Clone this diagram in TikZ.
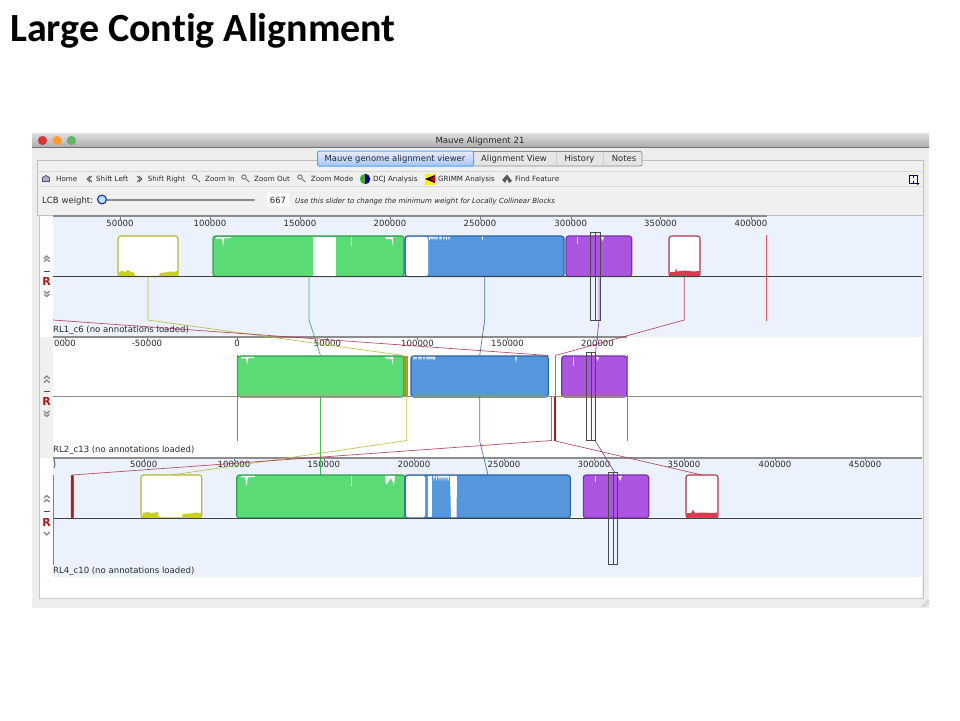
\documentclass[tikz,border=0pt]{standalone}
\usepackage{fontspec}
\setmainfont{DejaVu Sans}
\newfontfamily\titlefont[Ligatures=NoCommon]{Carlito}
\definecolor{panelblue}{HTML}{EBF2FD}
\definecolor{winbg}{HTML}{EDEDEB}
\definecolor{ylw}{HTML}{B4B92A}
\definecolor{ylwf}{HTML}{C8D020}
\definecolor{grn}{HTML}{2F9C4E}
\definecolor{grnf}{HTML}{5BDB75}
\definecolor{blu}{HTML}{2B639F}
\definecolor{bluf}{HTML}{5596DD}
\definecolor{pur}{HTML}{7A2FAE}
\definecolor{purf}{HTML}{AC55E0}
\definecolor{rd}{HTML}{B0324A}
\definecolor{rdf}{HTML}{D93A50}
\definecolor{brd}{HTML}{EE5060}
\definecolor{dred}{HTML}{B01818}
\definecolor{ink}{HTML}{2A2A2A}
\tikzset{
  x=1pt,y=-1pt,
  lbl/.style={font=\fontsize{8.55}{10}\selectfont,text=ink,inner sep=0pt},
  ticklbl/.style={lbl,anchor=base},
  toolitem/.style={font=\fontsize{7.15}{9}\selectfont,text=ink,inner sep=0pt,anchor=base west},
  tablbl/.style={font=\fontsize{8.4}{10}\selectfont,text=ink,inner sep=0pt,anchor=base},
  blockshape/.style={rounded corners=2.6pt,line width=1.1pt},
  linkline/.style={line width=.7pt,opacity=.85},
  redline/.style={line width=1pt,draw=brd},
  hiframe/.style={draw=ink!85,line width=.7pt,fill=none},
  axisline/.style={draw=black!45,line width=1.1pt},
  midline/.style={draw=black!75,line width=.9pt},
  navmark/.style={draw=black!45,line width=1.3pt,line cap=round},
  iconline/.style={draw=black!60,line width=.8pt},
}
\newcommand{\blockbox}[7]{% name, x1, x2, y1, y2, outline, fill
  \path[blockshape,draw=#6,fill=#7] (#2,#4) rectangle (#3,#5);
  \coordinate (#1) at (#2,#4);
}
\newcommand{\navset}[4]{%
  \draw[navmark] (44,#1+1.5) -- (46.7,#1-1) -- (49.5,#1+1.5);
  \draw[black!70,line width=1pt] (43.5,#2) -- (50,#2);
  \node[inner sep=0pt,font=\fontsize{11}{11}\selectfont\bfseries,text=dred] (r#4) at (46.7,#3) {R};
}
\newcommand{\hibox}[5]{% name x1 x2 y1 y2
  \path[hiframe] (#2,#4) rectangle (#3,#5);
  \draw[hiframe] ({(#2+#3)/2},#4) -- ({(#2+#3)/2},#5);
}
\newcommand{\teeth}[3]{% list of x, y top, depth
  \foreach \q in {#1} {\fill[white] (\q-.9,#2) -- (\q+.9,#2) -- (\q,#2+#3) -- cycle;}
}
\begin{document}
\begin{tikzpicture}
\useasboundingbox (0,0) rectangle (960,720);
\fill[white] (0,0) rectangle (960,720);
\node[anchor=west,inner sep=0pt,font=\titlefont\fontsize{40}{44}\selectfont\bfseries,text=black] (title) at (10,31) {Large Contig Alignment};
% window
\fill[winbg] (32,133) rectangle (929,608);
\shade[top color=black!12,bottom color=black!32] (32,133) rectangle (929,147);
\draw[black!55,line width=.5pt] (32,147.5) -- (929,147.5);
\fill[red!75!white!85!black] (42.5,140.5) circle (4.6);
\fill[orange!80!white] (57,140.5) circle (4.6);
\fill[green!50!black!60!white] (71.5,140.5) circle (4.6);
\node[inner sep=0pt,font=\fontsize{8.6}{10}\selectfont,text=black!85] (wintitle) at (480,141) {Mauve Alignment 21};
\path[draw=black!25,line width=.8pt,fill=black!6] (37.5,160) rectangle (923,215);
\draw[black!15,line width=.5pt] (38,171) -- (923,171) (38,186) -- (923,186);
% tabs
\path[draw=black!45,line width=.7pt,fill=white!90!black,rounded corners=2pt] (470,151.5) rectangle (642,166);
\path[draw=blue!50!cyan!70,line width=1pt,top color=blue!8,bottom color=cyan!35!blue!35,rounded corners=2pt] (317.5,151) rectangle (473.5,166);
\draw[black!20] (556,152) -- (556,165.5) (603,152) -- (603,165.5);
\node[tablbl] (tab1) at (395,161.5) {Mauve genome alignment viewer};
\node[tablbl] (tab2) at (514,161.5) {Alignment View};
\node[tablbl] (tab3) at (579.5,161.5) {History};
\node[tablbl] (tab4) at (624,161.5) {Notes};
% toolbar
\draw[iconline,fill=black!30,draw=blue!40!black!70] (42.5,181.5) -- (42.5,177.5) -- (46,175.5) -- (49.5,177.5) -- (49.5,181.5) -- cycle;
\node[toolitem] (t1) at (56,181.7) {Home};
\draw[iconline] (90,176) -- (87,179) -- (90,182) (92,176) -- (89,179) -- (92,182);
\node[toolitem] (t2) at (96,181.7) {Shift Left};
\draw[iconline] (137,176) -- (140,179) -- (137,182) (139,176) -- (142,179) -- (139,182);
\node[toolitem] (t3) at (147.7,181.7) {Shift Right};
\draw[iconline] (194.5,177) circle (2.2) (196.5,179) -- (200,182);
\node[toolitem] (t4) at (205,181.7) {Zoom In};
\draw[iconline] (244,177) circle (2.2) (246,179) -- (249.5,182);
\node[toolitem] (t5) at (254,181.7) {Zoom Out};
\draw[iconline] (300,177) circle (2.2) (302,179) -- (305.5,182);
\node[toolitem] (t6) at (310.7,181.7) {Zoom Mode};
\fill[green!55!black!75] (365,179) circle (5.2);
\fill[blue!55!black] (365,184.2) arc (90:-90:5.2) -- cycle;
\node[toolitem] (t7) at (373,181.7) {DCJ Analysis};
\fill[yellow] (424.5,173.5) rectangle (436,185);
\fill[black] (425,179) -- (435,175) -- (435,183) -- cycle;
\fill[red!85!black] (430,179) -- (435,176) -- (435,182) -- cycle;
\node[toolitem] (t8) at (438,181.7) {GRIMM Analysis};
\fill[black!65] (502,180) -- (507,174.5) -- (512,181) -- (509,183) -- (507,179) -- (505,183) -- cycle;
\node[toolitem] (t9) at (515,181.7) {Find Feature};
\draw[blue!55!black,line width=.6pt] (909.5,175) rectangle (917,183);
\draw[blue!55!black,line width=.6pt,dashed] (913.3,175) -- (913.3,183);
\fill[black] (916,183) -- (919.5,183) -- (917.7,185) -- cycle;
% slider row
\node[lbl,anchor=base west] (lcb) at (42,203) {LCB weight:};
\draw[black!45,line width=2pt,line cap=round] (103,200) -- (254,200);
\path[draw=blue!60!black!80,line width=1.2pt,fill=blue!30!cyan!30] (102,199.5) circle (4.4);
\fill[white] (267,193) rectangle (289,207);
\node[lbl,anchor=base] (val) at (278,203) {667};
\node[anchor=base west,inner sep=0pt,font=\fontsize{7.05}{9}\selectfont\itshape,text=ink] (hint) at (295,203) {Use this slider to change the minimum weight for Locally Collinear Blocks};
% panel
\fill[white] (40,216) rectangle (922,598);
\fill[black!6] (40,337) rectangle (53,458);
\fill[panelblue] (53,216) rectangle (922,337);
\fill[panelblue] (53,458) rectangle (922,577);
\draw[black!22,line width=1pt] (39,216) -- (39,598) -- (923,598) -- (923,216);
\draw[black!25,line width=.6pt] (929,600) -- (921,607) (929,603) -- (924,607);
% blocks track 1
\blockbox{a1}{118}{178}{236}{276.5}{ylw}{white}
\fill[ylwf] (118.5,276) -- (119,272) -- (122,270.5) -- (125,272) -- (128,270) -- (131,272) -- (134,272.5) -- (135,276) -- cycle;
\fill[ylwf] (159,276) -- (160,273) -- (165,272.5) -- (170,271.5) -- (174,272) -- (177.5,270.5) -- (177.5,276) -- cycle;
\blockbox{b1}{213}{404}{236}{276.5}{grn}{grnf}
\fill[white] (312.7,237) rectangle (336,276);
\fill[white] (216,237) -- (231,237) -- (231,238) -- (224,238.5) -- (223,247) -- (222,238.5) -- (216,238.5) -- cycle;
\fill[white] (385,237) -- (393,237) -- (393,246) -- (391.5,239) -- (386,239) -- cycle (351,237) rectangle (351.6,246);
\blockbox{c1}{405}{564}{236}{276.5}{blu}{bluf}
\fill[white,rounded corners=1.5pt] (406,236.8) rectangle (428,275.8);
\teeth{429.5,431,433,435,437,440,441,444,446.5,449}{236.8}{3.5}
\teeth{482.5}{236.8}{3.5}
\blockbox{d1}{566}{631.7}{236}{276.5}{pur}{purf}
\fill[white!70!purf] (577.3,237) rectangle (578,244);
\fill[white] (601,237) -- (604,237) -- (602.5,241) -- cycle;
\blockbox{e1}{669}{700}{236}{276.5}{rd}{white}
\fill[rdf] (669.5,276) -- (670,272) -- (675,272) -- (676,268) -- (677,271.5) -- (685,270.5) -- (693,271.5) -- (699.5,271) -- (699.5,276) -- cycle;
% blocks track 2
\blockbox{b2}{237.5}{404}{356}{397}{grn}{grnf}
\fill[white] (241,356.8) -- (254,356.8) -- (254,358) -- (248,358.3) -- (247,365) -- (246,358.3) -- (241,358.3) -- cycle;
\fill[white] (385,356.8) -- (393,356.8) -- (393,365) -- (391.5,358.5) -- (386,358.5) -- cycle;
\fill[ylw!85!black] (404.3,356) rectangle (407.5,397);
\blockbox{c2}{411}{548.3}{356}{397}{blu}{bluf}
\teeth{414,416,419,421,424,427,429,431,433,434.5}{356.8}{3.5}
\teeth{516}{356.8}{6}
\blockbox{d2}{561.7}{627}{356}{397}{pur}{purf}
\fill[white!70!purf] (572.5,357) rectangle (573.3,366);
\fill[white] (596,357) -- (599,357) -- (597.5,361) -- cycle;
% blocks track 3
\path[fill=dred,draw=rd,rounded corners=1pt,line width=.5pt] (71,475) rectangle (73.5,518);
\blockbox{a3}{141}{201.7}{475}{518}{ylw}{white}
\fill[ylwf] (142,517.5) -- (143,513) -- (147,512) -- (152,513) -- (158,512) -- (159,517.5) -- cycle;
\fill[ylwf] (182,517.5) -- (183,514) -- (190,513.5) -- (196,512.5) -- (201,513) -- (201,517.5) -- cycle;
\blockbox{b3}{236.7}{405}{475}{518}{grn}{grnf}
\fill[white] (241,475.8) -- (255,475.8) -- (255,477) -- (248,477.3) -- (246.5,486) -- (245,477.3) -- (241,477.3) -- cycle;
\fill[white] (351,475.8) rectangle (351.6,486);
\fill[white] (385,475.8) -- (395,475.8) -- (394,485) -- (391,478) -- (386,485) -- cycle;
\blockbox{c3}{405}{570.3}{475}{518}{blu}{bluf}
\fill[white,rounded corners=1.5pt] (406,475.8) rectangle (425,517.3);
\fill[white] (428,475.8) rectangle (432,517.3);
\fill[white] (450,475.8) -- (457,475.8) -- (456.5,517.3) -- (451,517.3) -- cycle;
\teeth{434,436.5,439,441,443,445,447,448.5}{475.8}{5}
\blockbox{d3}{583.3}{648.7}{475}{518}{pur}{purf}
\fill[white!70!purf] (595.3,476) rectangle (596,482);
\fill[white] (618,476) -- (622,476) -- (620,481) -- cycle;
\blockbox{e3}{686}{718}{475}{518}{rd}{white}
\fill[rdf] (686.5,517.5) -- (687,513) -- (691,513) -- (693,510) -- (695,513) -- (702,512.5) -- (712,513) -- (717.5,512.5) -- (717,517.5) -- cycle;
% axes
\draw[midline] (53,276.5) -- (922,276.5);
\draw[axisline] (53,396.8) -- (922,396.8);
\draw[midline] (53,518) -- (922,518);
\draw[axisline] (53,216) -- (767,216);
\draw[axisline] (53,337) -- (627,337);
\draw[axisline] (53,458) -- (922,458);
% tick labels
\foreach \tx/\tl in {120/50000,210/100000,300/150000,390/200000,480/250000,570.7/300000,660.5/350000,751/400000}
  {\draw[black!55,line width=.4pt] (\tx,217) -- (\tx,220); \node[ticklbl] at (\tx,226.6) {\tl};}
\foreach \tx/\tl in {65/0000,147/-50000,237/0,327.5/50000,417.5/100000,507.5/150000,597.5/200000}
  {\draw[black!55,line width=.4pt] (\tx,338) -- (\tx,340); \node[ticklbl] at (\tx,346.6) {\tl};}
\foreach \tx/\tl in {54.5/),143.7/50000,234/100000,323.7/150000,414/200000,504/250000,594/300000,684/350000,775/400000,865/450000}
  {\draw[black!55,line width=.4pt] (\tx,459) -- (\tx,461); \node[ticklbl] at (\tx,467.2) {\tl};}
\node[lbl,anchor=base west] (name1) at (53,332) {RL1\_c6 (no annotations loaded)};
\node[lbl,anchor=base west] (name2) at (53,452) {RL2\_c13 (no annotations loaded)};
\node[lbl,anchor=base west] (name3) at (53,573.5) {RL4\_c10 (no annotations loaded)};
% nav
\navset{260}{271}{281.5}{1}
\draw[navmark] (44,258.5) -- (46.7,256) -- (49.5,258.5);
\draw[navmark] (44,291) -- (46.7,293.5) -- (49.5,291) (44,294) -- (46.7,296.5) -- (49.5,294);
\navset{381}{391}{401.7}{2}
\draw[navmark] (44,378.5) -- (46.7,376) -- (49.5,378.5);
\draw[navmark] (44,411) -- (46.7,413.5) -- (49.5,411) (44,414) -- (46.7,416.5) -- (49.5,414);
\navset{500.5}{511}{522}{3}
\draw[navmark] (44,498) -- (46.7,495.5) -- (49.5,498);
\draw[navmark] (44,532) -- (46.7,535) -- (49.5,532);
% connector coordinates
\coordinate (y1a) at (148,276.5); \coordinate (y1b) at (148,320);
\coordinate (y2a) at (403.5,355.5); \coordinate (y2b) at (406.7,355.5); \coordinate (y2c) at (406.7,440.5);
\coordinate (y3a) at (171.5,475);
\coordinate (g1a) at (309,276.5); \coordinate (g1b) at (309,320);
\coordinate (g2a) at (320.5,355.5); \coordinate (g2m) at (320.5,396.8); \coordinate (g2b) at (320.5,440.5); \coordinate (g3a) at (320.5,475);
\coordinate (u1a) at (484.7,276.5); \coordinate (u1b) at (484.7,320);
\coordinate (u2a) at (479.7,355.5); \coordinate (u2m) at (479.7,396.8); \coordinate (u2b) at (479.7,441); \coordinate (u3a) at (488,475);
\coordinate (p1a) at (599,276.5); \coordinate (p1b) at (599,320);
\coordinate (p2a) at (595.3,355.5); \coordinate (p2m) at (595.3,396.8); \coordinate (p2b) at (595.3,441); \coordinate (p3a) at (615,473);
\coordinate (r1a) at (684.3,276.5); \coordinate (r1b) at (684.3,320);
\coordinate (r2a) at (555.3,355.5); \coordinate (r2m) at (555.3,396.8); \coordinate (r2b) at (555.3,441); \coordinate (r3a) at (702,475);
\coordinate (s1a) at (53,320); \coordinate (s2a) at (548.5,355.5);
\coordinate (s2b) at (551.5,397); \coordinate (s2c) at (551.5,440.5); \coordinate (s3a) at (72,475);
\coordinate (v1a) at (766.8,235); \coordinate (v1b) at (766.8,321);
\coordinate (w2a) at (237,355); \coordinate (w2b) at (237,441);
\coordinate (x2a) at (627.3,355); \coordinate (x2b) at (627.3,441);
\coordinate (z3a) at (53.5,475); \coordinate (z3b) at (53.5,565);
% connectors
\draw[linkline,draw=ylw] (y1a) -- (y1b) -- (y2a);
\draw[linkline,draw=ylw] (y2b) -- (y2c) -- (y3a);
\draw[linkline,draw=grn] (g1a) -- (g1b) -- (g2a);
\draw[linkline,draw=grn!80!green] (g2m) -- (g2b) -- (g3a);
\draw[linkline,draw=blu] (u1a) -- (u1b) -- (u2a);
\draw[linkline,draw=blu] (u2m) -- (u2b) -- (u3a);
\draw[linkline,draw=pur] (p1a) -- (p1b) -- (p2a);
\draw[linkline,draw=pur] (p2m) -- (p2b) -- (p3a);
\draw[linkline,draw=rd] (r1a) -- (r1b) -- (r2a);
\draw[redline] (r2a) -- (r2m);
\draw[line width=2pt,draw=dred] (r2m) -- (r2b);
\draw[linkline,draw=rd] (r2b) -- (r3a);
\draw[linkline,draw=rd] (s1a) -- (s2a);
\draw[redline] (s2b) -- (s2c);
\draw[linkline,draw=rd] (s2c) -- (s3a);
\draw[redline] (v1a) -- (v1b);
\draw[redline] (w2a) -- (w2b);
\draw[redline] (x2a) -- (x2b);
\draw[redline] (z3a) -- (z3b);
% highlight frames
\hibox{f1}{590.7}{600.7}{232}{320.7}
\hibox{f2}{586}{595.7}{352.7}{440.7}
\hibox{f3}{608.3}{617.7}{472.3}{564.3}
\end{tikzpicture}
\end{document}
